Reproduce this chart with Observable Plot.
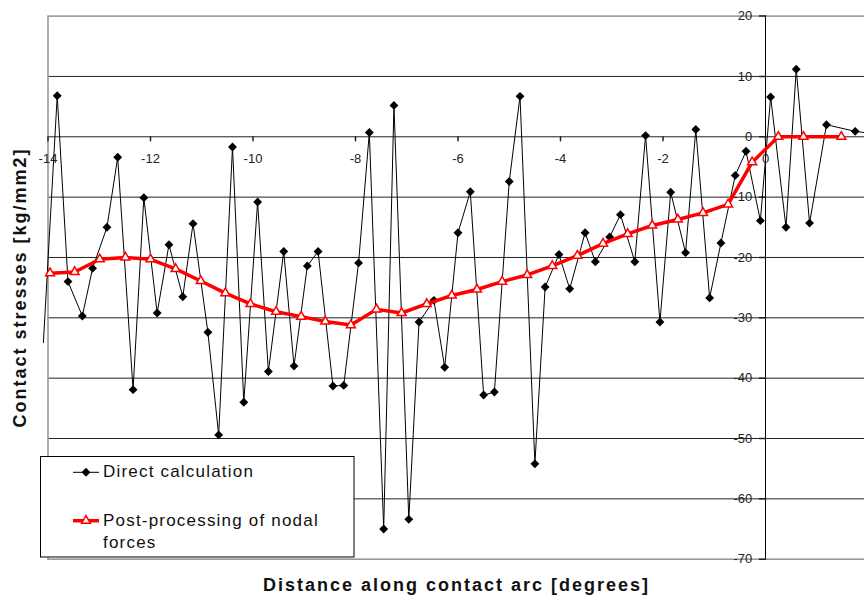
<!DOCTYPE html>
<html><head><meta charset="utf-8">
<script src="https://cdn.jsdelivr.net/npm/d3@7"></script>
<script src="https://cdn.jsdelivr.net/npm/@observablehq/plot@0.6"></script>
<style>
html,body{margin:0;padding:0;overflow:hidden;background:#fff;}
#wrap{position:relative;width:864px;height:601px;overflow:hidden;}
#wrap > svg{max-width:none !important;}
#legend{position:absolute;left:40px;top:456px;}
</style></head><body><div id="wrap"></div>
<script>
// Direct calculation (black diamonds)
const directX = [-14.09, -13.82, -13.61, -13.33, -13.13, -12.85, -12.64, -12.34, -12.13, -11.87, -11.64, -11.37, -11.17, -10.88, -10.67, -10.40, -10.18, -9.91, -9.70, -9.40, -9.20, -8.94, -8.73, -8.44, -8.23, -7.94, -7.73, -7.45, -7.25, -6.96, -6.76, -6.47, -6.26, -6.00, -5.76, -5.50, -5.29, -5.00, -4.79, -4.50, -4.30, -4.03, -3.82, -3.52, -3.32, -3.04, -2.83, -2.55, -2.34, -2.06, -1.85, -1.56, -1.36, -1.09, -0.87, -0.59, -0.38, -0.10, 0.10, 0.40, 0.60, 0.86, 1.19, 1.75, 2.30];
const directY = [-34.1, 6.8, -24.0, -29.7, -21.8, -15.0, -3.4, -41.9, -10.1, -29.2, -17.9, -26.5, -14.4, -32.4, -49.4, -1.7, -44.0, -10.8, -38.9, -19.0, -38.0, -21.4, -19.0, -41.3, -41.2, -20.9, 0.7, -65.0, 5.2, -63.4, -30.7, -27.1, -38.2, -15.9, -9.1, -42.8, -42.3, -7.4, 6.7, -54.2, -24.9, -19.5, -25.2, -15.9, -20.7, -16.6, -12.9, -20.7, 0.2, -30.7, -9.2, -19.2, 1.2, -26.7, -17.6, -6.4, -2.4, -13.9, 6.6, -15.0, 11.2, -14.3, 2.0, 0.9, 0.3];
// Post-processing of nodal forces (red triangles)
const nodalX = [-13.96, -13.48, -12.99, -12.49, -12.00, -11.51, -11.02, -10.54, -10.05, -9.55, -9.06, -8.59, -8.09, -7.59, -7.10, -6.61, -6.12, -5.63, -5.14, -4.65, -4.16, -3.67, -3.17, -2.69, -2.21, -1.71, -1.22, -0.73, -0.26, 0.25, 0.74, 1.48];
const nodalY = [-22.6, -22.4, -20.3, -20.0, -20.3, -21.9, -23.9, -25.9, -27.7, -29.0, -29.8, -30.6, -31.2, -28.6, -29.2, -27.7, -26.3, -25.3, -24.0, -22.9, -21.4, -19.7, -17.7, -16.1, -14.7, -13.7, -12.6, -11.2, -4.2, 0, 0, 0];
const xTicks = [-14, -12, -10, -8, -6, -4, -2, 0, 2];
const yTicks = [-70, -60, -50, -40, -30, -20, -10, 0, 10, 20];
const gridY = [-60, -50, -40, -30, -20, -10, 0, 10];
const seriesNames = ["Direct calculation", "Post-processing of nodal forces"];
const xTitle = "Distance along contact arc [degrees]";
const yTitle = "Contact stresses [kg/mm2]";

const direct = directX.map((x, i) => ({x, y: directY[i]}));
const nodal = nodalX.map((x, i) => ({x, y: nodalY[i]}));
const xDomain = [-14, 2];
const inDomain = d => d.x >= xDomain[0] && d.x <= xDomain[1];
const tickShape = {draw(ctx, l) { ctx.moveTo(0, 0); ctx.lineTo(0, -l); }};

const plot = Plot.plot({
  width: 868, height: 601,
  marginLeft: 47.5, marginRight: 0.5, marginTop: 15.6, marginBottom: 42.3,
  x: {domain: xDomain, axis: null},
  y: {domain: [-70, 20], axis: null},
  style: {fontFamily: "'Liberation Sans', Arial, sans-serif", fontSize: "13px", background: "white", color: "#222", maxWidth: "none"},
  marks: [
    Plot.ruleY(gridY, {stroke: "#222", strokeWidth: 1}),
    Plot.frame({stroke: "#9a9a9a", strokeWidth: 1.6}),
    Plot.ruleX([0], {stroke: "#000", strokeWidth: 1}),
    Plot.vector(yTicks, {x: 0, y: d => d, length: 6, rotate: 270, anchor: "start", shape: tickShape, stroke: "#222"}),
    Plot.vector(xTicks, {x: d => d, y: 0, length: 4, rotate: 180, anchor: "start", shape: tickShape, stroke: "#222"}),
    Plot.text(yTicks, {x: 0, y: d => d, text: d => String(d), textAnchor: "end", dx: -13.3, fill: "#222"}),
    Plot.text(xTicks, {x: d => d, y: 0, text: d => String(d), textAnchor: "middle", lineAnchor: "top", dy: 17, fill: "#222"}),
    Plot.line(direct, {x: "x", y: "y", stroke: "#000", strokeWidth: 1}),
    Plot.dot(direct.filter(inDomain), {x: "x", y: "y", symbol: "diamond2", r: 4, fill: "#000", stroke: "none"}),
    Plot.line(nodal, {x: "x", y: "y", stroke: "#ff0000", strokeWidth: 3.5}),
    Plot.dot(nodal, {x: "x", y: "y", symbol: "triangle", r: 3.3, fill: "white", stroke: "#ff0000", strokeWidth: 1.5})
  ]
});
plot.style.maxWidth = "none";
plot.style.width = "868px";
plot.style.height = "601px";

const svg = d3.select(plot);
svg.append("text")
  .attr("x", 456.5).attr("y", 591)
  .attr("text-anchor", "middle")
  .attr("font-family", "'Liberation Sans', Arial, sans-serif")
  .attr("font-weight", "bold").attr("font-size", 18).attr("letter-spacing", "2px")
  .attr("fill", "#111")
  .text(xTitle);
svg.append("text")
  .attr("transform", "translate(26,287.5) rotate(-90)")
  .attr("text-anchor", "middle")
  .attr("font-family", "'Liberation Sans', Arial, sans-serif")
  .attr("font-weight", "bold").attr("font-size", 18).attr("letter-spacing", "2px")
  .attr("fill", "#111")
  .text(yTitle);

const wrap = document.getElementById("wrap");
wrap.appendChild(plot);

// Legend box overlaid on the plot
const leg = d3.select(wrap).append("svg")
  .attr("id", "legend").attr("width", 315).attr("height", 102);
leg.append("rect").attr("x", 0.5).attr("y", 0.5).attr("width", 313.5).attr("height", 100.5)
  .attr("fill", "white").attr("stroke", "#000").attr("stroke-width", 1);
const legFont = "'Liberation Sans', Arial, sans-serif";
// entry 1
leg.append("line").attr("x1", 33).attr("x2", 59).attr("y1", 16.3).attr("y2", 16.3).attr("stroke", "#000").attr("stroke-width", 1);
leg.append("path").attr("d", d3.symbol(d3.symbolDiamond2, 4 * 4 * Math.PI)()).attr("transform", "translate(46,16.3)").attr("fill", "#000");
leg.append("text").attr("x", 63).attr("y", 20.5).attr("font-family", legFont).attr("font-size", 17).attr("letter-spacing", "1.2px").attr("fill", "#111").text(seriesNames[0]);
// entry 2
leg.append("line").attr("x1", 33).attr("x2", 59).attr("y1", 64.7).attr("y2", 64.7).attr("stroke", "#ff0000").attr("stroke-width", 3.5);
leg.append("path").attr("d", d3.symbol(d3.symbolTriangle, 3.3 * 3.3 * Math.PI)()).attr("transform", "translate(46,64.7)").attr("fill", "white").attr("stroke", "#ff0000").attr("stroke-width", 1.5);
const t2 = leg.append("text").attr("font-family", legFont).attr("font-size", 17).attr("letter-spacing", "1.2px").attr("fill", "#111");
t2.append("tspan").attr("x", 63).attr("y", 69.7).text("Post-processing of nodal");
t2.append("tspan").attr("x", 63).attr("y", 91.7).text("forces");
</script>
</body></html>
